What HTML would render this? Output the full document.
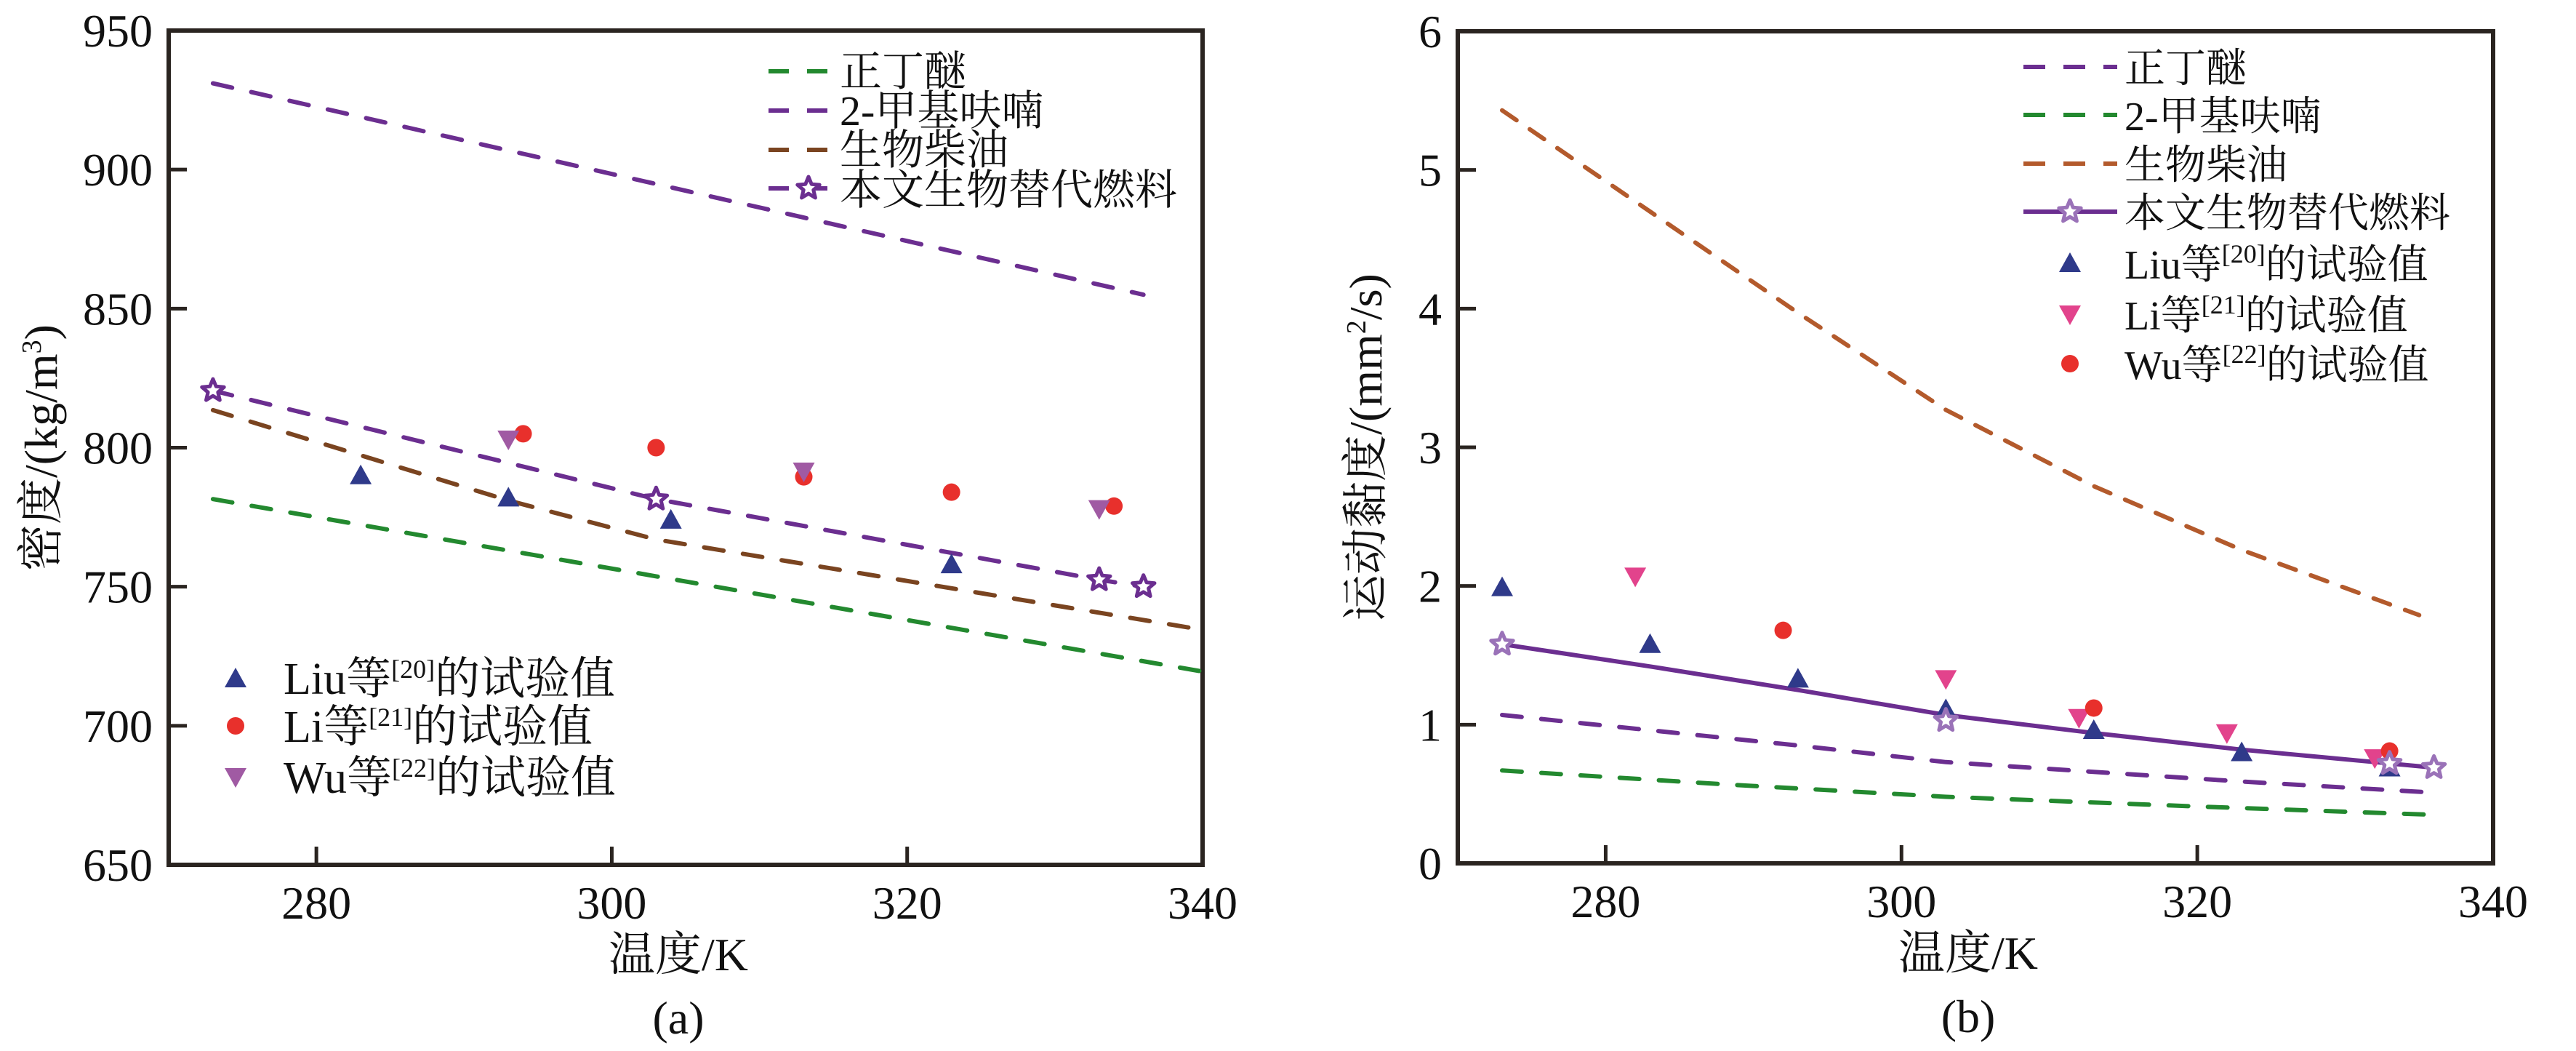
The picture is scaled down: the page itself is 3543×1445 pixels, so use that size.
<!DOCTYPE html>
<html><head><meta charset="utf-8">
<style>
html,body{margin:0;padding:0;background:#fff;}
svg{display:block;}
svg text{font-family:"Liberation Serif","Times New Roman","Noto Serif CJK SC",serif;fill:#111;}
</style></head>
<body>
<svg id="c" width="3543" height="1445" viewBox="0 0 3543 1445" xmlns="http://www.w3.org/2000/svg"></svg>
<script>
// ---------- Panel (a) data: density ----------
const aXTicks = [280, 300, 320, 340];
const aYTicks = [650, 700, 750, 800, 850, 900, 950];
const aDbeK = [273, 340];
const aDbeV = [781.5, 719.5];
const aMfK = [273, 336];
const aMfV = [931, 855];
const aBdK = [273, 293, 303, 340];
const aBdV = [813.5, 781, 767, 734.5];
const aFuelK = [273, 303, 333, 336];
const aFuelV = [820.5, 781.5, 752.5, 750];
const aLiuK = [283, 293, 304, 323];
const aLiuV = [790, 782, 774, 758];
const aLiK = [294, 303, 313, 323, 334];
const aLiV = [805, 800, 789.5, 784, 779];
const aWuK = [293, 313, 333];
const aWuV = [803, 791.5, 778];

// ---------- Panel (b) data: viscosity ----------
const bXTicks = [280, 300, 320, 340];
const bYTicks = [0, 1, 2, 3, 4, 5, 6];
const bBdK = [273, 283, 293, 303, 313, 323, 335];
const bBdV = [5.43, 4.70, 3.97, 3.27, 2.72, 2.26, 1.79];
const bDbeK = [273, 283, 293, 303, 313, 323, 336];
const bDbeV = [1.07, 0.96, 0.85, 0.73, 0.66, 0.59, 0.51];
const bMfK = [273, 288, 303, 320, 336];
const bMfV = [0.67, 0.57, 0.48, 0.41, 0.35];
const bFuelK = [273, 283, 293, 303, 313, 323, 333, 336];
const bFuelV = [1.58, 1.42, 1.25, 1.07, 0.94, 0.82, 0.72, 0.69];
const bStarK = [273, 303, 333, 336];
const bStarV = [1.58, 1.03, 0.72, 0.69];
const bLiuK = [273, 283, 293, 303, 313, 323, 333];
const bLiuV = [1.99, 1.58, 1.33, 1.11, 0.96, 0.80, 0.69];
const bLiK = [282, 303, 312, 322, 332];
const bLiV = [2.07, 1.33, 1.05, 0.94, 0.76];
const bWuK = [292, 313, 333];
const bWuV = [1.68, 1.12, 0.81];

const NS = "http://www.w3.org/2000/svg";
const FONT = '"Liberation Serif", "Times New Roman", "Noto Serif CJK SC", serif';
const svg = document.getElementById('c');
function mk(tag, attrs, parent){
  const e = document.createElementNS(NS, tag);
  for (const k in attrs) e.setAttribute(k, attrs[k]);
  if (tag === 'text') e.setAttribute('font-family', FONT);
  (parent||svg).appendChild(e);
  return e;
}
const GREEN="#23892f", PURPLE="#6b2e90", BROWN="#7a4420", ORANGE="#b35a2c",
      NAVY="#2f3a8a", RED="#e8302c", WUPURP="#a05aa3", PINK="#e2438c";

function panel(P){
  const g = mk('g', {});
  
  
  const sx = v => P.x0 + (v - P.xmin)/(P.xmax - P.xmin)*(P.x1 - P.x0);
  const sy = v => P.y1 - (v - P.ymin)/(P.ymax - P.ymin)*(P.y1 - P.y0);
  P.sx = sx; P.sy = sy;
  const fr = mk('rect', {x:P.x0, y:P.y0, width:P.x1-P.x0, height:P.y1-P.y0, fill:'none', stroke:'#2a2420', 'stroke-width':6}, g);
  
  
  P.yt.forEach(v=>{
    const y = sy(v);
    if (v!==P.ymin && v!==P.ymax){
      const t = mk('line',{x1:P.x0, x2:P.x0+25, y1:y, y2:y, stroke:'#2a2420','stroke-width':5}, g);
      
      
    }
    const tx = mk('text',{x:P.x0-22, y:y+22, 'font-size':64, 'text-anchor':'end'}, g);
    
    
    tx.textContent = v;
  });
  P.xt.forEach(v=>{
    const x = sx(v);
    if (v!==P.xmax){
      const t = mk('line',{x1:x, x2:x, y1:P.y1, y2:P.y1-25, stroke:'#2a2420','stroke-width':5}, g);
      
      
    }
    const tx = mk('text',{x:x, y:P.y1+74, 'font-size':64, 'text-anchor':'middle'}, g);
    
    
    tx.textContent = v;
  });
  const xt = mk('text',{x:(P.x0+P.x1)/2 - 10, y:P.y1+145, 'font-size':64, 'text-anchor':'middle'}, g);
  
  
  xt.textContent = '温度/K';
  const cap = mk('text',{x:(P.x0+P.x1)/2 - 10, y:P.y1+232, 'font-size':64, 'text-anchor':'middle'}, g);
  
  
  cap.textContent = P.cap;
  const yt = mk('text',{x:0, y:0, 'font-size':64, 'text-anchor':'middle', transform:`translate(${P.ytx},${(P.y0+P.y1)/2}) rotate(-90)`}, g);
  
  
  yt.innerHTML = P.ytitle;
  return g;
}
function line(P, g, K, V, color, dash, name){
  const d = K.map((k,i)=>(i?'L':'M')+P.sx(k).toFixed(1)+','+P.sy(V[i]).toFixed(1)).join(' ');
  const p = mk('path',{d, fill:'none', stroke:color, 'stroke-width':6, 'stroke-dasharray':dash||'none', 'stroke-linecap':'round'}, g);
  
  
}
function starPath(cx,cy,r){
  let s='';
  for(let i=0;i<10;i++){
    const a = -Math.PI/2 + i*Math.PI/5;
    const rr = i%2? r*0.45 : r;
    s += (i?'L':'M')+(cx+rr*Math.cos(a)).toFixed(1)+','+(cy+rr*Math.sin(a)).toFixed(1);
  }
  return s+'Z';
}
function marker(g, type, x, y, color, name){
  let e;
  if (type==='up') e = mk('path',{d:`M${x},${y-15}L${x+15},${y+12}L${x-15},${y+12}Z`, fill:color}, g);
  else if (type==='down') e = mk('path',{d:`M${x},${y+15}L${x+15},${y-12}L${x-15},${y-12}Z`, fill:color}, g);
  else if (type==='circle') e = mk('circle',{cx:x, cy:y, r:12, fill:color}, g);
  else e = mk('path',{d:starPath(x,y,16), fill:'#fff', stroke:color, 'stroke-width':5, 'stroke-linejoin':'round'}, g);
  
  
}
function points(P, g, K, V, type, color, name){
  K.forEach((k,i)=>marker(g, type, P.sx(k), P.sy(V[i]), color, name));
}
function legText(g, x, y, html, size){
  const t = mk('text',{x, y, 'font-size':size}, g);
  
  
  t.innerHTML = html;
}
function legLine(g, x0, x1, y, color, dash, name){
  const l = mk('line',{x1:x0, x2:x1, y1:y, y2:y, stroke:color, 'stroke-width':6, 'stroke-dasharray':dash||'none'}, g);
  
  
}
const sup = n => `<tspan dy="-22" font-size="36">[${n}]</tspan><tspan dy="22">`;

// ---- Panel A ----
const A = {name:'density-chart', x0:232, x1:1654, y0:42, y1:1189, xmin:270, xmax:340, ymin:650, ymax:950,
  xt:aXTicks, yt:aYTicks, cap:'(a)', ytx:78, ytitle:'密度/(kg/m<tspan dy="-22" font-size="38">3</tspan><tspan dy="22">)</tspan>'};
const ga = panel(A);
const dA = '27 27';
line(A, ga, aDbeK, aDbeV, GREEN, dA, 'line-dibutyl-ether');
line(A, ga, aMfK, aMfV, PURPLE, dA, 'line-2-methylfuran');
line(A, ga, aBdK, aBdV, BROWN, dA, 'line-biodiesel');
line(A, ga, aFuelK, aFuelV, PURPLE, dA, 'line-surrogate-fuel');
points(A, ga, aFuelK, aFuelV, 'star', PURPLE, 'surrogate-fuel-point');
points(A, ga, aLiuK, aLiuV, 'up', NAVY, 'liu-point');
points(A, ga, aLiK, aLiV, 'circle', RED, 'li-point');
points(A, ga, aWuK, aWuV, 'down', WUPURP, 'wu-point');
const la = mk('g',{}, ga);


legLine(la,1057,1145,98,GREEN,'28 25','legend-swatch');
legText(la,1155,118,'正丁醚',58);
legLine(la,1057,1145,152,PURPLE,'28 25','legend-swatch');
legText(la,1155,172,'2-甲基呋喃',58);
legLine(la,1057,1145,206,BROWN,'28 25','legend-swatch');
legText(la,1155,226,'生物柴油',58);
legLine(la,1057,1145,259,PURPLE,'28 25','legend-swatch');
marker(la,'star',1112,259,PURPLE,'legend-star');
legText(la,1155,281,'本文生物替代燃料',58);
const lb = mk('g',{}, ga);


marker(lb,'up',324,933,NAVY,'legend-marker');
legText(lb,390,954,'Liu等'+sup(20)+'的试验值</tspan>',62);
marker(lb,'circle',324,998,RED,'legend-marker');
legText(lb,390,1020,'Li等'+sup(21)+'的试验值</tspan>',62);
marker(lb,'down',324,1068,WUPURP,'legend-marker');
legText(lb,390,1090,'Wu等'+sup(22)+'的试验值</tspan>',62);

// ---- Panel B ----
const B = {name:'viscosity-chart', x0:2005, x1:3429, y0:43, y1:1187, xmin:270, xmax:340, ymin:0, ymax:6,
  xt:bXTicks, yt:bYTicks, cap:'(b)', ytx:1900, ytitle:'运动黏度/(mm<tspan dy="-22" font-size="38">2</tspan><tspan dy="22">/s)</tspan>'};
const gb = panel(B);
line(B, gb, bBdK, bBdV, ORANGE, '24 22', 'line-biodiesel');
line(B, gb, bDbeK, bDbeV, PURPLE, '27 27', 'line-dibutyl-ether');
line(B, gb, bMfK, bMfV, GREEN, '27 27', 'line-2-methylfuran');
line(B, gb, bFuelK, bFuelV, PURPLE, null, 'line-surrogate-fuel');
points(B, gb, bLiuK, bLiuV, 'up', NAVY, 'liu-point');
points(B, gb, bLiK, bLiV, 'down', PINK, 'li-point');
points(B, gb, bWuK, bWuV, 'circle', RED, 'wu-point');
points(B, gb, bStarK, bStarV, 'star', '#9a72b8', 'surrogate-fuel-point');
const lc = mk('g',{}, gb);


legLine(lc,2783,2912,92,PURPLE,'30 25','legend-swatch');
legText(lc,2922,113,'正丁醚',56);
legLine(lc,2783,2912,158,GREEN,'30 25','legend-swatch');
legText(lc,2922,179,'2-甲基呋喃',56);
legLine(lc,2783,2912,225,ORANGE,'30 25','legend-swatch');
legText(lc,2922,246,'生物柴油',56);
legLine(lc,2783,2912,291,PURPLE,null,'legend-swatch');
marker(lc,'star',2847,291,'#9a72b8','legend-star');
legText(lc,2922,312,'本文生物替代燃料',56);
marker(lc,'up',2847,362,NAVY,'legend-marker');
legText(lc,2922,383,'Liu等'+sup(20)+'的试验值</tspan>',56);
marker(lc,'down',2847,432,PINK,'legend-marker');
legText(lc,2922,453,'Li等'+sup(21)+'的试验值</tspan>',56);
marker(lc,'circle',2847,500,RED,'legend-marker');
legText(lc,2922,521,'Wu等'+sup(22)+'的试验值</tspan>',56);
</script>
</body></html>
